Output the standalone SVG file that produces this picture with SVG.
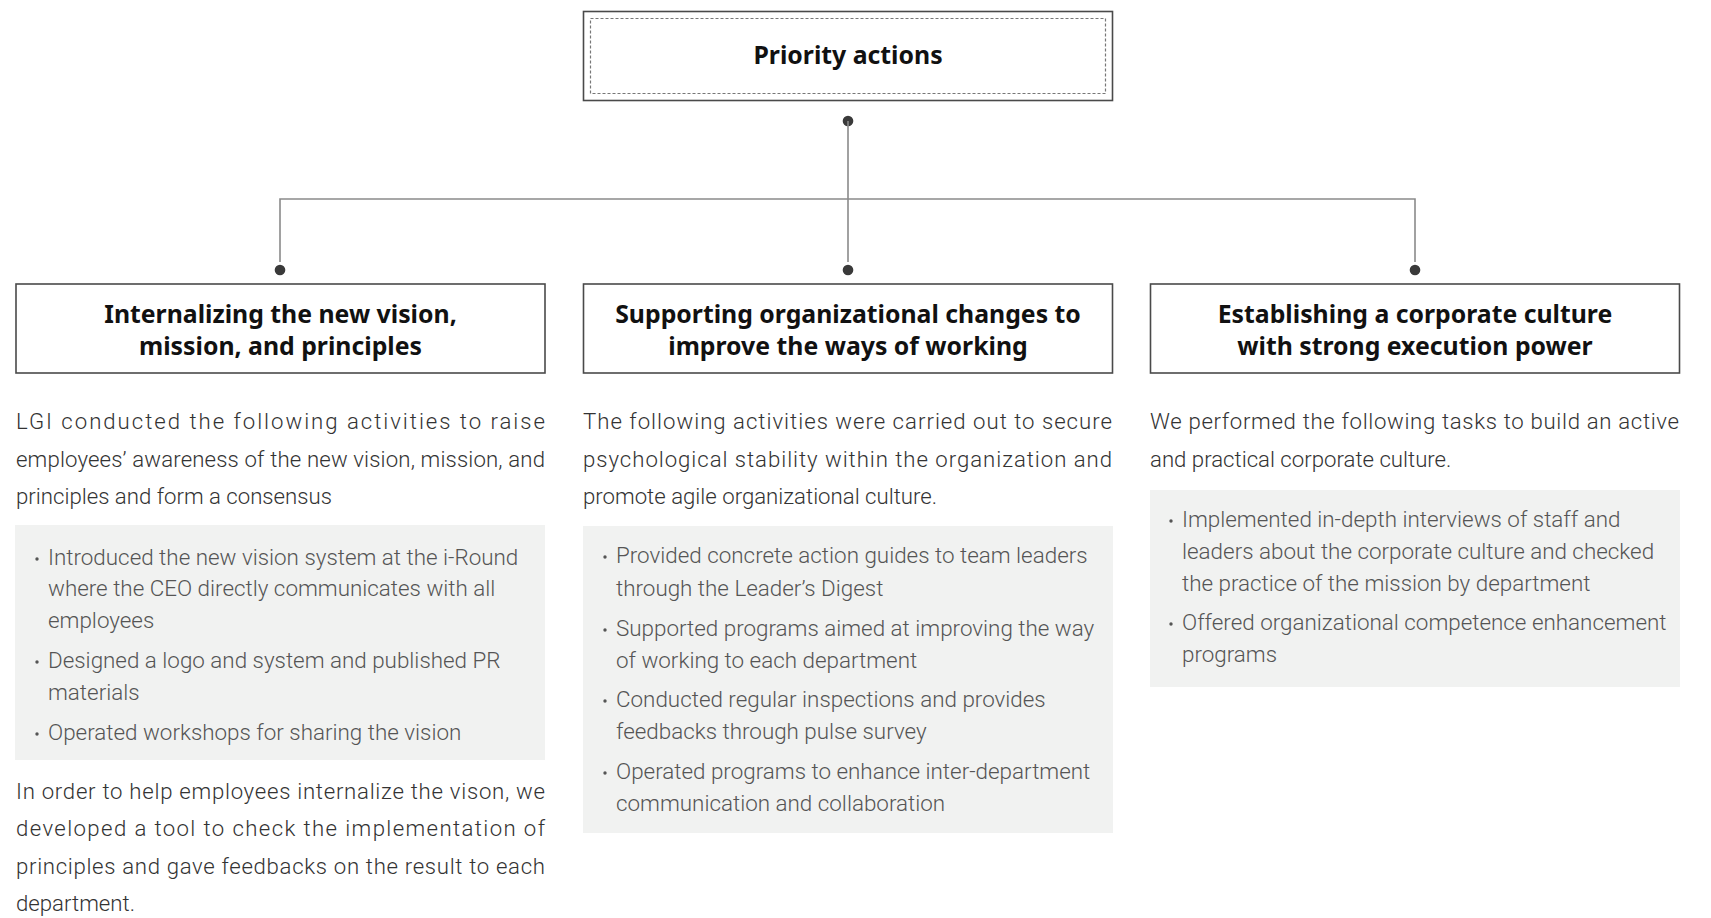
<svg xmlns="http://www.w3.org/2000/svg" width="1711" height="918" viewBox="0 0 1711 918">
  <style>
    .box { fill: #ffffff; stroke: #4a4a4a; stroke-width: 1.6; }
    .inner { fill: none; stroke: #777777; stroke-width: 1.2; stroke-dasharray: 3 2; }
    .panel { fill: #f1f2f1; }
    .wire { fill: none; stroke: #8a8a8a; stroke-width: 1.6; }
    .dot { fill: #3a3a3a; }
    .bullet { fill: #555555; }
    .title { font-family: "Noto Sans", "Open Sans", sans-serif; font-weight: 700; font-size: 24.8px; fill: #111111; text-anchor: middle; }
    .para { font-family: Roboto, "Liberation Sans", sans-serif; font-weight: 300; font-size: 22.2px; fill: #333333; }
    .item { font-family: Roboto, "Liberation Sans", sans-serif; font-weight: 300; font-size: 22.4px; fill: #555555; }
  </style>

  <rect width="1711" height="918" fill="#ffffff"/>

  <!-- connectors -->
  <g id="connectors">
    <circle class="dot" cx="848" cy="121" r="5.3"/>
    <line class="wire" x1="848" y1="121" x2="848" y2="262"/>
    <polyline class="wire" points="280,262 280,199 1415,199 1415,262"/>
    <circle class="dot" cx="280" cy="270" r="5.3"/>
    <circle class="dot" cx="848" cy="270" r="5.3"/>
    <circle class="dot" cx="1415" cy="270" r="5.3"/>
  </g>

  <!-- root node -->
  <g id="priority-actions">
    <rect class="box" x="583.5" y="11.5" width="529" height="89"/>
    <rect class="inner" x="590.5" y="18.5" width="515" height="75"/>
    <text class="title" x="848" y="64" font-size="26">Priority actions</text>
  </g>

  <!-- column 1 -->
  <g id="internalizing-vision">
    <rect class="box" x="16" y="284" width="529" height="89"/>
    <text class="title" x="280.5" y="323">Internalizing the new vision,</text>
    <text class="title" x="280.5" y="355">mission, and principles</text>

    <text class="para" x="16" y="429" textLength="529" lengthAdjust="spacing">LGI conducted the following activities to raise</text>
    <text class="para" x="16" y="467" textLength="529" lengthAdjust="spacing">employees’ awareness of the new vision, mission, and</text>
    <text class="para" x="16" y="504">principles and form a consensus</text>

    <rect class="panel" x="15" y="525" width="530" height="235"/>
    <circle class="bullet" cx="37" cy="559" r="1.7"/>
    <text class="item" x="48" y="565">Introduced the new vision system at the i-Round</text>
    <text class="item" x="48" y="596">where the CEO directly communicates with all</text>
    <text class="item" x="48" y="628">employees</text>
    <circle class="bullet" cx="37" cy="662" r="1.7"/>
    <text class="item" x="48" y="668">Designed a logo and system and published PR</text>
    <text class="item" x="48" y="700">materials</text>
    <circle class="bullet" cx="37" cy="734" r="1.7"/>
    <text class="item" x="48" y="740">Operated workshops for sharing the vision</text>

    <text class="para" x="16" y="799" textLength="529" lengthAdjust="spacing">In order to help employees internalize the vison, we</text>
    <text class="para" x="16" y="836" textLength="529" lengthAdjust="spacing">developed a tool to check the implementation of</text>
    <text class="para" x="16" y="874" textLength="529" lengthAdjust="spacing">principles and gave feedbacks on the result to each</text>
    <text class="para" x="16" y="911">department.</text>
  </g>

  <!-- column 2 -->
  <g id="organizational-changes">
    <rect class="box" x="583.5" y="284" width="529" height="89"/>
    <text class="title" x="848" y="323">Supporting organizational changes to</text>
    <text class="title" x="848" y="355">improve the ways of working</text>

    <text class="para" x="583" y="429" textLength="529" lengthAdjust="spacing">The following activities were carried out to secure</text>
    <text class="para" x="583" y="467" textLength="529" lengthAdjust="spacing">psychological stability within the organization and</text>
    <text class="para" x="583" y="504">promote agile organizational culture.</text>

    <rect class="panel" x="583" y="526" width="530" height="307"/>
    <circle class="bullet" cx="605" cy="557" r="1.7"/>
    <text class="item" x="616" y="563">Provided concrete action guides to team leaders</text>
    <text class="item" x="616" y="596">through the Leader’s Digest</text>
    <circle class="bullet" cx="605" cy="630" r="1.7"/>
    <text class="item" x="616" y="636">Supported programs aimed at improving the way</text>
    <text class="item" x="616" y="668">of working to each department</text>
    <circle class="bullet" cx="605" cy="701" r="1.7"/>
    <text class="item" x="616" y="707">Conducted regular inspections and provides</text>
    <text class="item" x="616" y="739">feedbacks through pulse survey</text>
    <circle class="bullet" cx="605" cy="773" r="1.7"/>
    <text class="item" x="616" y="779">Operated programs to enhance inter-department</text>
    <text class="item" x="616" y="811">communication and collaboration</text>
  </g>

  <!-- column 3 -->
  <g id="execution-culture">
    <rect class="box" x="1150.5" y="284" width="529" height="89"/>
    <text class="title" x="1415" y="323">Establishing a corporate culture</text>
    <text class="title" x="1415" y="355">with strong execution power</text>

    <text class="para" x="1150" y="429" textLength="529" lengthAdjust="spacing">We performed the following tasks to build an active</text>
    <text class="para" x="1150" y="467">and practical corporate culture.</text>

    <rect class="panel" x="1150" y="490" width="530" height="197"/>
    <circle class="bullet" cx="1171" cy="521" r="1.7"/>
    <text class="item" x="1182" y="527">Implemented in-depth interviews of staff and</text>
    <text class="item" x="1182" y="559">leaders about the corporate culture and checked</text>
    <text class="item" x="1182" y="591">the practice of the mission by department</text>
    <circle class="bullet" cx="1171" cy="624" r="1.7"/>
    <text class="item" x="1182" y="630">Offered organizational competence enhancement</text>
    <text class="item" x="1182" y="662">programs</text>
  </g>
</svg>
